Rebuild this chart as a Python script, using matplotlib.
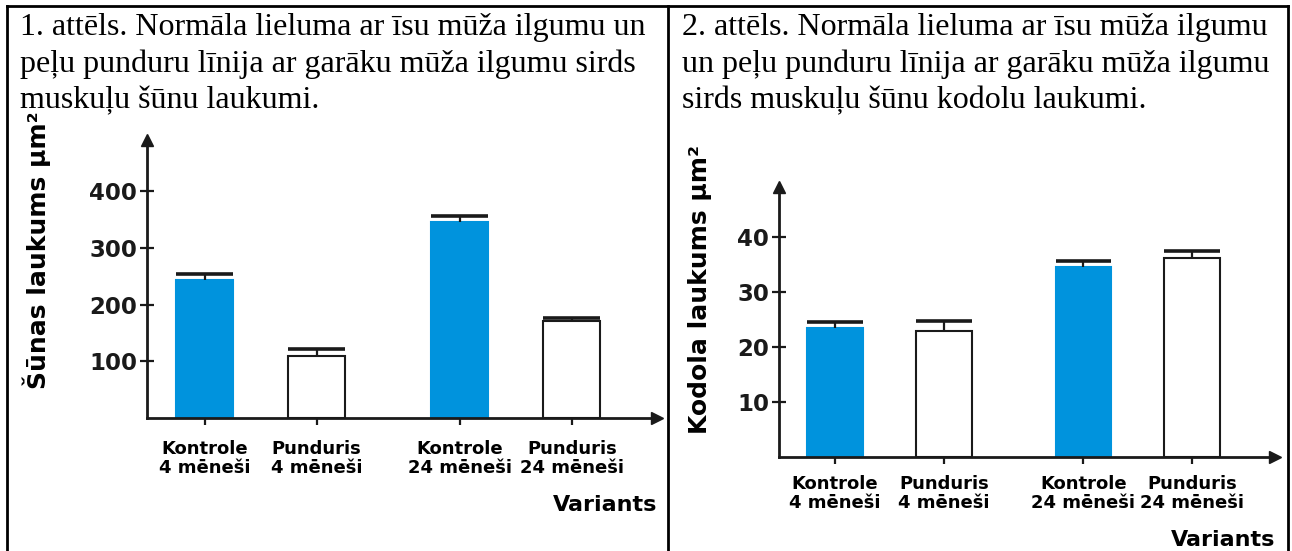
import numpy as np
import matplotlib
matplotlib.use('Agg')
import matplotlib.pyplot as plt
from matplotlib.lines import Line2D

# Data
categories = ['Kontrole\n4 mēneši', 'Punduris\n4 mēneši',
              'Kontrole\n24 mēneši', 'Punduris\n24 mēneši']
is_control = [True, False, True, False]

cell_area = [243, 109, 346, 171]
cell_err = [11, 13, 10, 5]
cell_ticks = [100, 200, 300, 400]

nucleus_area = [23.5, 22.9, 34.5, 36.2]
nucleus_err = [1.0, 1.8, 1.1, 1.3]
nucleus_ticks = [10, 20, 30, 40]

title_1 = ['1. attēls. Normāla lieluma ar īsu mūža ilgumu un',
           'peļu punduru līnija ar garāku mūža ilgumu sirds',
           'muskuļu šūnu laukumi.']
title_2 = ['2. attēls. Normāla lieluma ar īsu mūža ilgumu',
           'un peļu punduru līnija ar garāku mūža ilgumu',
           'sirds muskuļu šūnu kodolu laukumi.']

W, H = 1292, 551
BLUE = '#0093dd'
positions = np.array([0, 1, 2.28, 3.28])
bar_w = 0.51

fig = plt.figure(figsize=(W / 100, H / 100), dpi=100)


def px_axes(x0, x1, ytop, ybot):
    return fig.add_axes([x0 / W, 1 - ybot / H, (x1 - x0) / W, (ybot - ytop) / H])


def draw_panel(ax, values, errs, ticks, ytop):
    colors = [BLUE if c else 'white' for c in is_control]
    edges = [BLUE if c else '#1a1a1a' for c in is_control]
    ax.bar(positions, values, width=bar_w, color=colors, edgecolor=edges,
           linewidth=1.5, zorder=2)
    tops = np.array(values) + np.array(errs)
    ax.vlines(positions, values, tops, color='#1a1a1a', lw=1.6, zorder=3)
    ax.hlines(tops, positions - bar_w / 2, positions + bar_w / 2,
              color='#1a1a1a', lw=2.6, zorder=3)
    ax.set_xlim(-0.514, 4.04)
    ax.set_ylim(0, ytop)
    ax.set_yticks(ticks)
    ax.set_yticklabels([str(t) for t in ticks], fontsize=16.5, fontweight='bold')
    ax.set_xticks(positions)
    ax.set_xticklabels([])
    ax.tick_params(axis='y', direction='inout', length=10, width=1.6, pad=2,
                   colors='#1a1a1a')
    ax.tick_params(axis='x', direction='out', length=5, width=1.6,
                   colors='#1a1a1a')
    for s in ['top', 'right']:
        ax.spines[s].set_visible(False)
    for s in ['left', 'bottom']:
        ax.spines[s].set_linewidth(2.0)
        ax.spines[s].set_color('#1a1a1a')
    ax.set_facecolor('none')
    # arrow heads at the axis ends
    ax.plot(1, 0, marker='>', ms=9, color='#1a1a1a', transform=ax.transAxes,
            clip_on=False)
    ax.plot(0, 1, marker='^', ms=9, color='#1a1a1a', transform=ax.transAxes,
            clip_on=False)


# left panel: cell area
ax1 = px_axes(147, 657, 140, 418)
draw_panel(ax1, cell_area, cell_err, cell_ticks, (418 - 140) / 0.567)
for p, lab in zip(positions, categories):
    ax1.annotate(lab, (p, 0), xycoords=ax1.get_xaxis_transform(),
                 xytext=(0, -22), textcoords='offset pixels', ha='center',
                 va='top', fontsize=13, fontweight='bold', linespacing=1.1)
ax1.annotate('Variants', (1, 0), xycoords='axes fraction', xytext=(0, -87),
             textcoords='offset pixels', ha='right', va='center',
             fontsize=16, fontweight='bold')
fig.text(37 / W, 1 - 250 / H, 'Šūnas laukums µm²', rotation=90, ha='center',
         va='center', fontsize=18, fontweight='bold')

# right panel: nucleus area
ax2 = px_axes(779, 1275, 187, 457)
draw_panel(ax2, nucleus_area, nucleus_err, nucleus_ticks, (457 - 187) / 5.5)
for p, lab in zip(positions, categories):
    ax2.annotate(lab, (p, 0), xycoords=ax2.get_xaxis_transform(),
                 xytext=(0, -18), textcoords='offset pixels', ha='center',
                 va='top', fontsize=13, fontweight='bold', linespacing=1.1)
ax2.annotate('Variants', (1, 0), xycoords='axes fraction', xytext=(0, -83),
             textcoords='offset pixels', ha='right', va='center',
             fontsize=16, fontweight='bold')
fig.text(700 / W, 1 - 289 / H, 'Kodola laukums µm²', rotation=90, ha='center',
         va='center', fontsize=18, fontweight='bold')

# captions in serif
for i, line in enumerate(title_1):
    fig.text(20 / W, 1 - (35 + 36.5 * i) / H, line, family='Liberation Serif',
             fontsize=23, va='baseline')
for i, line in enumerate(title_2):
    fig.text(682 / W, 1 - (35 + 36.5 * i) / H, line, family='Liberation Serif',
             fontsize=23, va='baseline')

# table border lines
for x in [7, 668, 1288]:
    fig.add_artist(Line2D([x / W, x / W], [0, 1 - 6 / H], color='black', lw=2,
                          transform=fig.transFigure))
fig.add_artist(Line2D([7 / W, 1288 / W], [1 - 6 / H, 1 - 6 / H], color='black',
                      lw=2, transform=fig.transFigure))

fig.savefig('out.png', dpi=100)
